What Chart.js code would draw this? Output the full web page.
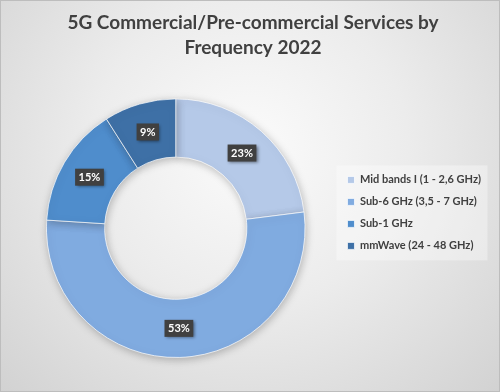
<!DOCTYPE html>
<html>
<head>
<meta charset="utf-8">
<script src="https://cdn.jsdelivr.net/npm/chart.js@4.4.1/dist/chart.umd.min.js"></script>
<style>
  html, body { margin: 0; padding: 0; background: #ffffff; }
  #wrap {
    width: 498px; height: 390px;
    border: 1px solid #bdbdbd;
    background: radial-gradient(ellipse at 50% 38%, #fbfbfb 0%, #ececec 45%, #d2d2d2 100%);
  }
  canvas { display: block; }
</style>
</head>
<body>
<div id="wrap"><canvas id="chart" width="498" height="390"></canvas></div>
<script>
// chart data
const band_labels = ["Mid bands I (1 - 2,6 GHz)", "Sub-6 GHz (3,5 - 7 GHz)", "Sub-1 GHz", "mmWave (24 - 48 GHz)"];
const band_shares = [23, 53, 15, 9];
const band_colors = ["#b5c9e8", "#80abe0", "#4f8dcc", "#3e70a6"];
const title_lines = ["5G Commercial/Pre-commercial Services by", "Frequency 2022"];

const FONT = "Lato, 'Open Sans', sans-serif";

// light panel behind the legend items
const legend_panel = {
    id: "legend_panel",
    beforeDraw(chart) {
        const boxes = chart.legend && chart.legend.legendHitBoxes;
        if (!boxes || !boxes.length) return;
        const ctx = chart.ctx;
        const first = boxes[0], last = boxes[boxes.length - 1];
        ctx.save();
        ctx.fillStyle = "rgba(255, 255, 255, 0.35)";
        ctx.fillRect(first.left - 11, first.top - 9, 151, last.top + last.height - first.top + 18);
        ctx.restore();
    }
};

// soft shadow under the ring
const ring_shadow = {
    id: "ring_shadow",
    beforeDatasetsDraw(chart) {
        const ctx = chart.ctx;
        ctx.save();
        ctx.shadowColor = "rgba(0, 0, 0, 0.25)";
        ctx.shadowBlur = 8;
        ctx.shadowOffsetX = 1;
        ctx.shadowOffsetY = 2;
    },
    afterDatasetsDraw(chart) {
        chart.ctx.restore();
    }
};

// dark percentage boxes
const value_boxes = {
    id: "value_boxes",
    afterDatasetsDraw(chart) {
        const ctx = chart.ctx;
        const meta = chart.getDatasetMeta(0);
        ctx.save();
        ctx.font = "bold 11px " + FONT;
        ctx.textAlign = "center";
        ctx.textBaseline = "middle";
        meta.data.forEach((arc, i) => {
            const p = arc.tooltipPosition();
            const text = band_shares[i] + "%";
            const w = ctx.measureText(text).width + 7;
            const h = 17;
            ctx.save();
            ctx.shadowColor = "rgba(0, 0, 0, 0.45)";
            ctx.shadowBlur = 3;
            ctx.shadowOffsetX = 1.5;
            ctx.shadowOffsetY = 1.5;
            ctx.fillStyle = "#404040";
            ctx.fillRect(p.x - w / 2, p.y - h / 2, w, h);
            ctx.restore();
            ctx.fillStyle = "#ffffff";
            ctx.fillText(text, p.x, p.y + 0.5);
        });
        ctx.restore();
    }
};

const chart = new Chart("chart", {
    type: "doughnut",
    data: {
        labels: band_labels,
        datasets: [{
            data: band_shares,
            backgroundColor: band_colors,
            borderColor: "rgba(255, 255, 255, 0.7)",
            borderWidth: 1
        }]
    },
    options: {
        responsive: false,
        animation: false,
        devicePixelRatio: 1,
        cutout: "55%",
        layout: { padding: { left: 14, top: 3, bottom: 33, right: 8 } },
        plugins: {
            title: {
                display: true,
                fullSize: true,
                text: title_lines,
                color: "#404040",
                font: { family: FONT, size: 19, weight: "bold", lineHeight: 1.3 },
                padding: { top: 7, bottom: 38 }
            },
            legend: {
                position: "right",
                align: "start",
                fullSize: false,
                title: { display: true, text: " ", font: { size: 1, lineHeight: 1 }, padding: { top: 64, bottom: 0 } },
                labels: {
                    boxWidth: 7,
                    boxHeight: 7,
                    padding: 11,
                    color: "#404040",
                    font: { family: FONT, size: 11, weight: "bold" }
                }
            },
            tooltip: { enabled: false }
        }
    },
    plugins: [legend_panel, ring_shadow, value_boxes]
});
</script>
</body>
</html>
